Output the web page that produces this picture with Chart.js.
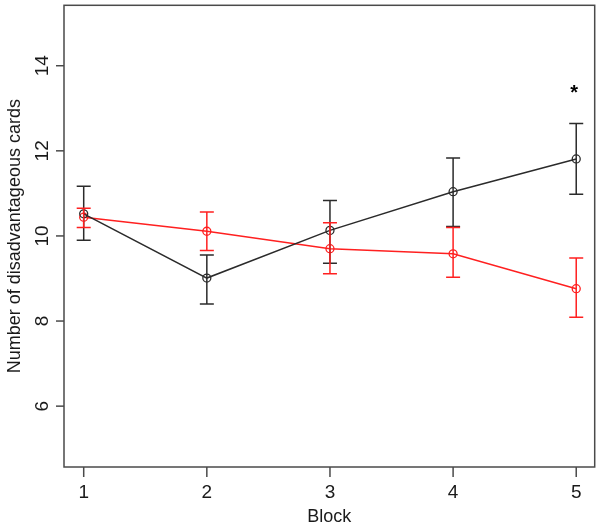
<!DOCTYPE html>
<html>
<head>
<meta charset="utf-8">
<script src="https://cdn.jsdelivr.net/npm/chart.js@4.4.0/dist/chart.umd.min.js"></script>
<style>
  html, body { margin: 0; padding: 0; background: #fff; }
  #wrap { width: 600px; height: 527px; }
</style>
</head>
<body>
<div id="wrap"><canvas id="chart" width="600" height="527"></canvas></div>
<script>
// data
const blocks = [1, 2, 3, 4, 5];
const blackMean = [10.52, 9.01, 10.13, 11.04, 11.81];
const blackLow = [9.90, 8.40, 9.36, 10.22, 10.98];
const blackHigh = [11.17, 9.55, 10.83, 11.83, 12.64];
const redMean = [10.44, 10.11, 9.70, 9.58, 8.76];
const redLow = [10.20, 9.66, 9.11, 9.03, 8.09];
const redHigh = [10.65, 10.56, 10.31, 10.20, 9.48];
const yTicks = [6, 8, 10, 12, 14];
const xTicks = [1, 2, 3, 4, 5];
const starBlock = 5;
const starValue = 13.45;

const BLACK = "#2b2b2b";
const RED = "#ff2020";
const AXIS = "#4a4a4a";
const FONT = "'Liberation Sans', Arial, sans-serif";

function toPoints(ys) {
  return blocks.map((b, i) => ({ x: b, y: ys[i] }));
}

// error bars, axes, box and labels drawn with the chart's scales
const extras = {
  id: "extras",
  afterDatasetsDraw(chart) {
    const ctx = chart.ctx;
    const xs = chart.scales.x;
    const ys = chart.scales.y;
    const area = chart.chartArea;

    function bars(low, high, color) {
      ctx.save();
      ctx.strokeStyle = color;
      ctx.lineWidth = 1.5;
      blocks.forEach((b, i) => {
        const px = xs.getPixelForValue(b);
        const y1 = ys.getPixelForValue(low[i]);
        const y2 = ys.getPixelForValue(high[i]);
        ctx.beginPath();
        ctx.moveTo(px, y1); ctx.lineTo(px, y2);
        ctx.moveTo(px - 7, y1); ctx.lineTo(px + 7, y1);
        ctx.moveTo(px - 7, y2); ctx.lineTo(px + 7, y2);
        ctx.stroke();
      });
      ctx.restore();
    }
    bars(blackLow, blackHigh, BLACK);
    bars(redLow, redHigh, RED);

    ctx.save();
    // box
    ctx.strokeStyle = AXIS;
    ctx.lineWidth = 1.5;
    ctx.strokeRect(area.left, area.top, area.right - area.left, area.bottom - area.top);

    // x ticks
    ctx.fillStyle = "#1a1a1a";
    ctx.font = "19px " + FONT;
    ctx.textAlign = "center";
    ctx.textBaseline = "middle";
    xTicks.forEach((t) => {
      const px = xs.getPixelForValue(t);
      ctx.beginPath();
      ctx.moveTo(px, area.bottom); ctx.lineTo(px, area.bottom + 10);
      ctx.stroke();
      ctx.fillText(String(t), px, area.bottom + 26);
    });
    ctx.font = "18px " + FONT;
    ctx.fillText("Block", (area.left + area.right) / 2, area.bottom + 50);

    // y ticks (labels rotated like R)
    ctx.font = "19px " + FONT;
    yTicks.forEach((t) => {
      const py = ys.getPixelForValue(t);
      ctx.beginPath();
      ctx.moveTo(area.left - 8, py); ctx.lineTo(area.left, py);
      ctx.stroke();
      ctx.save();
      ctx.translate(area.left - 21, py);
      ctx.rotate(-Math.PI / 2);
      ctx.fillText(String(t), 0, 0);
      ctx.restore();
    });
    ctx.save();
    ctx.translate(15, (area.top + area.bottom) / 2);
    ctx.rotate(-Math.PI / 2);
    ctx.font = "18px " + FONT;
    ctx.fillText("Number of disadvantageous cards", 0, 0);
    ctx.restore();

    // significance marker
    ctx.fillStyle = "#000";
    ctx.font = "bold 20px " + FONT;
    ctx.fillText("*", xs.getPixelForValue(starBlock) - 2, ys.getPixelForValue(starValue) + 4);
    ctx.restore();
  },
};

const bg = {
  id: "bg",
  beforeDraw(chart) {
    const ctx = chart.ctx;
    ctx.save();
    ctx.fillStyle = "#fff";
    ctx.fillRect(0, 0, chart.width, chart.height);
    ctx.restore();
  },
};

new Chart(document.getElementById("chart").getContext("2d"), {
  type: "line",
  data: {
    datasets: [
      {
        label: "Group 1",
        data: toPoints(blackMean),
        borderColor: BLACK,
        borderWidth: 1.5,
        pointStyle: "circle",
        pointRadius: 4,
        pointBorderWidth: 1.3,
        pointBorderColor: BLACK,
        pointBackgroundColor: "rgba(0,0,0,0)",
        fill: false,
        tension: 0,
      },
      {
        label: "Group 2",
        data: toPoints(redMean),
        borderColor: RED,
        borderWidth: 1.5,
        pointStyle: "circle",
        pointRadius: 4,
        pointBorderWidth: 1.3,
        pointBorderColor: RED,
        pointBackgroundColor: "rgba(0,0,0,0)",
        fill: false,
        tension: 0,
      },
    ],
  },
  options: {
    responsive: false,
    animation: false,
    maintainAspectRatio: false,
    layout: { padding: { left: 64, right: 5, top: 5, bottom: 60 } },
    plugins: {
      legend: { display: false },
      tooltip: { enabled: false },
    },
    scales: {
      x: { type: "linear", min: 0.84, max: 5.15, display: false },
      y: { type: "linear", min: 4.57, max: 15.42, display: false },
    },
  },
  plugins: [bg, extras],
});
</script>
</body>
</html>
